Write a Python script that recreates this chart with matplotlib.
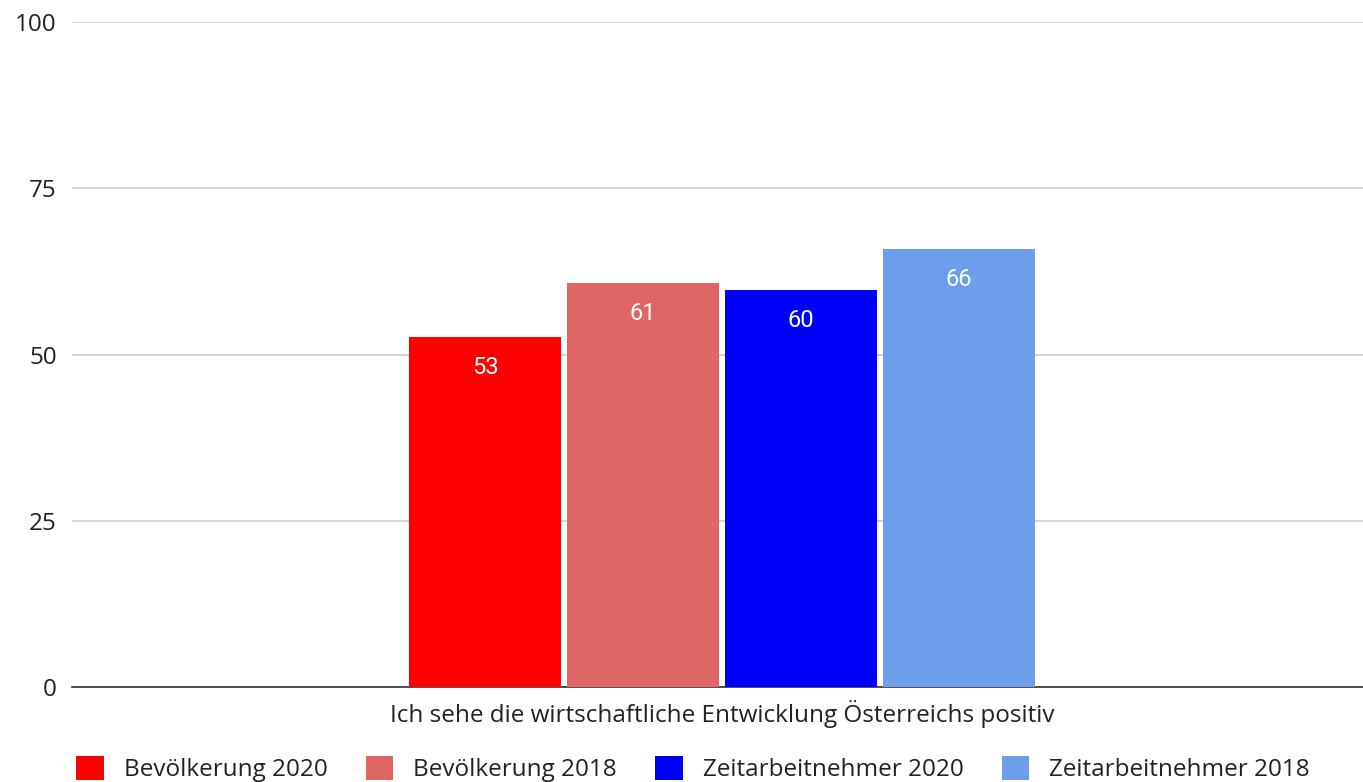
import matplotlib.pyplot as plt
from matplotlib.patches import Patch

# data
category = "Ich sehe die wirtschaftliche Entwicklung Österreichs positiv"
series = ["Bevölkerung 2020", "Bevölkerung 2018", "Zeitarbeitnehmer 2020", "Zeitarbeitnehmer 2018"]
values = [52.6, 60.8, 59.7, 65.8]
colors = ["#ff0000", "#e06666", "#0000ff", "#6d9eeb"]
yticks = [0, 25, 50, 75, 100]

plt.rcParams['font.family'] = ['Open Sans', 'DejaVu Sans']

fig = plt.figure(figsize=(13.63, 7.82), dpi=100)
ax = fig.add_axes([72 / 1363, 1 - 687 / 782, 1 - 72 / 1363, 665 / 782])

W = 152 / 1291 * 100
gap = 6 / 1291 * 100
center = (722 - 72) / 1291 * 100
n = len(values)
start = center - (n * W + (n - 1) * gap) / 2 + W / 2
for i, (v, c) in enumerate(zip(values, colors)):
    x = start + i * (W + gap)
    ax.bar(x, v, width=W, color=c, zorder=3)
    ax.annotate(f"{round(v)}", (x, v), xytext=(0, -22), textcoords='offset points',
                ha='center', va='center', color='white',
                fontsize=17, family=['Roboto', 'DejaVu Sans'], zorder=4)

ax.set_xlim(0, 100)
ax.set_ylim(0, 100)
ax.set_yticks(yticks)
ax.set_yticklabels([str(t) for t in yticks], fontsize=17.5, color='#222222')
ax.tick_params(axis='y', length=0, pad=11)
ax.set_xticks([center])
ax.set_xticklabels([category], fontsize=17.5, color='#222222')
ax.tick_params(axis='x', length=0, pad=9)
ax.grid(axis='y', color='#cccccc', linewidth=1.2, zorder=0)
for s in ['top', 'right', 'left']:
    ax.spines[s].set_visible(False)
ax.spines['bottom'].set_color('#333333')
ax.spines['bottom'].set_linewidth(1.2)

handles = [Patch(facecolor=c, label=s) for s, c in zip(series, colors)]
fig.legend(handles=handles, loc='center', bbox_to_anchor=(693 / 1363, 1 - 769 / 782),
           ncol=4, frameon=False, fontsize=17.5, handlelength=1.15, handleheight=1.15,
           handletextpad=0.82, columnspacing=1.56, labelcolor='#222222', borderpad=0)

fig.savefig("out.png", dpi=100)
